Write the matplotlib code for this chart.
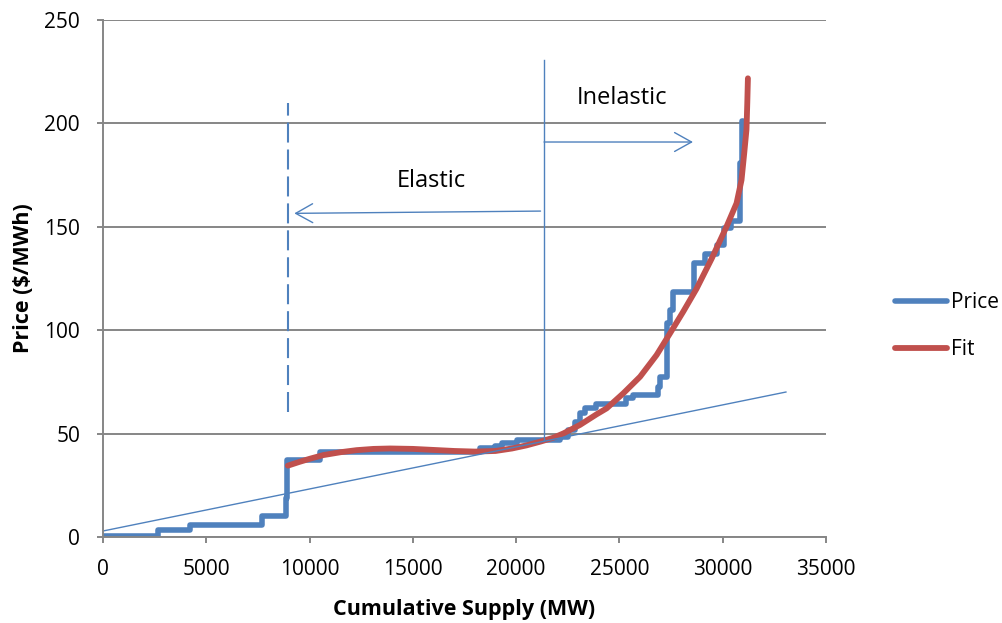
import matplotlib.pyplot as plt

plt.rcParams['font.family'] = ['Open Sans', 'DejaVu Sans']
plt.rcParams['lines.scale_dashes'] = False

# stepped supply curve (MW, $/MWh), each price holds until the next supply point
supply = [0, 2660, 4210, 7680, 8850, 8900, 10500, 18250, 19000, 19300, 20020,
          22100, 22500, 22850, 23090, 23330, 23890, 25300, 25670, 26880, 26960,
          27310, 27440, 27600, 28600, 29140, 29700, 30080, 30400, 30860, 30950, 30990]
price = [0.7, 3.4, 5.6, 10.2, 19.0, 37.0, 41.3, 42.9, 44.2, 45.6, 46.9,
         48.2, 51.7, 55.8, 59.8, 62.4, 64.3, 67.0, 68.8, 72.7, 77.5,
         103.3, 109.7, 118.6, 132.3, 137.0, 141.2, 149.3, 152.8, 181.0, 201.0, 201.0]

# fitted curve
fit_supply = [8950, 9500, 10000, 10660, 11500, 12280, 13100, 13900, 15000, 16000,
              17000, 18000, 19000, 19800, 20500, 21200, 21800, 22290, 23090, 23890,
              24380, 25190, 26000, 26800, 27450, 28090, 28730, 29460, 30180, 30670,
              30910, 31040, 31150, 31190, 31220]
fit_price = [34.5, 36.3, 37.8, 39.6, 41.0, 42.0, 42.6, 42.8, 42.6, 42.1,
             41.6, 41.3, 41.6, 42.8, 44.3, 46.2, 48.0, 50.1, 54.2, 59.3,
             62.2, 69.5, 77.5, 88.0, 98.5, 109.0, 120.0, 134.5, 150.0, 161.4,
             172.6, 185.5, 197.0, 210.0, 221.8]

# tangent line and markers
tangent_x = [0, 33060]
tangent_y = [2.9, 70.1]
split_x = 21350
split_y = [47, 230.6]
elastic_x = 8950
elastic_y = [60.4, 210]

blue = '#4F81BD'
red = '#C0504D'
grey = '#868686'

fig = plt.figure(figsize=(10.02, 6.23), dpi=100)
ax = fig.add_axes([103/1002, 86/623, 723/1002, 517/623])

ax.step(supply, price, where='post', color=blue, lw=4.0, label='Price',
        solid_joinstyle='round', solid_capstyle='round')
ax.plot(fit_supply, fit_price, color=red, lw=4.2, label='Fit', solid_capstyle='round')

ax.plot(tangent_x, tangent_y, color=blue, lw=1.0)
ax.plot([split_x, split_x], split_y, color=blue, lw=1.0)
ax.plot([elastic_x, elastic_x], elastic_y, color=blue, lw=1.5, dashes=(14.4, 5.0))

arrow = dict(arrowstyle='->,head_length=1.22,head_width=0.68', color=blue,
             lw=1.0, mutation_scale=10, shrinkA=0, shrinkB=0)
ax.annotate('', xy=(9260, 156.5), xytext=(21180, 157.6), arrowprops=arrow)
ax.annotate('', xy=(28560, 191.0), xytext=(21350, 191.0), arrowprops=arrow)
ax.text(15880, 172.1, 'Elastic', ha='center', va='center', fontsize=17)
ax.text(25120, 212.5, 'Inelastic', ha='center', va='center', fontsize=17)

ax.set_xlim(0, 35000)
ax.set_ylim(0, 250)
ax.set_xticks(range(0, 35001, 5000))
ax.set_yticks(range(0, 251, 50))
ax.grid(axis='y', color=grey, lw=1.4)
ax.set_axisbelow(True)
for s in ['top', 'right']:
    ax.spines[s].set_visible(False)
for s in ['left', 'bottom']:
    ax.spines[s].set_color(grey)
    ax.spines[s].set_linewidth(1.4)
ax.tick_params(colors=grey, length=4.5, width=1.4, labelcolor='black', labelsize=15)
ax.tick_params(axis='y', pad=12)
ax.tick_params(axis='x', pad=11)

ax.set_xlabel('Cumulative Supply (MW)', fontsize=15.5, fontweight='bold', labelpad=14)
ax.set_ylabel('Price ($/MWh)', fontsize=15.5, fontweight='bold', labelpad=7)

fig.legend(loc='center left', bbox_to_anchor=(895/1002, 1 - 326/623), frameon=False,
           fontsize=15, handlelength=2.5, handletextpad=0.2, labelspacing=1.25,
           borderpad=0, borderaxespad=0)

fig.savefig('out.png', dpi=100)
